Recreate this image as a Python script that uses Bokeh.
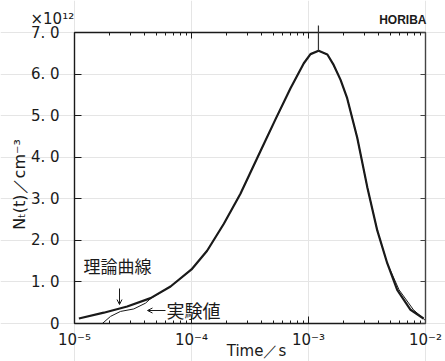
import math
from bokeh.plotting import figure
from bokeh.models import (Range1d, LogAxis, LinearAxis, FixedTicker, Label, Arrow,
                          OpenHead, CustomJSTickFormatter)
from bokeh.embed import file_html
from bokeh.resources import INLINE

# ---- data ----
theory_t = [1.09e-5, 1.78e-5, 2.82e-5, 4.47e-5, 6.62e-5, 1.0e-4, 1.36e-4, 1.89e-4,
            2.62e-4, 3.89e-4, 5.22e-4, 7.02e-4, 9.12e-4, 1.04e-3, 1.22e-3, 1.45e-3,
            1.64e-3, 1.88e-3, 2.14e-3, 2.61e-3, 3.18e-3, 3.87e-3, 4.71e-3, 5.73e-3,
            7.45e-3, 9.62e-3]
theory_n = [0.12, 0.26, 0.41, 0.61, 0.89, 1.30, 1.75, 2.40,
            3.12, 4.15, 4.91, 5.66, 6.26, 6.48, 6.56, 6.47,
            6.22, 5.86, 5.42, 4.47, 3.28, 2.24, 1.45, 0.81,
            0.33, 0.12]

exp_t = [1.73e-5, 2.03e-5, 2.47e-5, 3.21e-5, 4.05e-5, 4.47e-5, 6.62e-5, 1.0e-4, 1.36e-4,
         1.89e-4, 2.62e-4, 3.89e-4, 5.22e-4, 7.02e-4, 9.12e-4, 1.04e-3, 1.22e-3, 1.45e-3,
         1.64e-3, 1.88e-3, 2.14e-3, 2.61e-3, 3.18e-3, 3.87e-3, 4.71e-3, 5.94e-3,
         7.89e-3, 1.0e-2]
exp_n = [0.0, 0.17, 0.29, 0.35, 0.49, 0.60, 0.89, 1.30, 1.75,
         2.40, 3.12, 4.15, 4.91, 5.66, 6.26, 6.48, 6.56, 6.47,
         6.22, 5.86, 5.42, 4.47, 3.28, 2.24, 1.45, 0.81,
         0.33, 0.07]

peak_t = 1.216e-3
peak_n = 6.56

x_ticks = [1e-5, 1e-4, 1e-3, 1e-2]
x_tick_labels = {"-5": "10⁻⁵", "-4": "10⁻⁴", "-3": "10⁻³", "-2": "10⁻²"}
y_ticks = [0, 1, 2, 3, 4, 5, 6, 7]
y_tick_labels = {0: "0", 1: "1. 0", 2: "2. 0", 3: "3. 0", 4: "4. 0",
                 5: "5. 0", 6: "6. 0", 7: "7. 0"}
x_min, x_max = 1e-5, 1e-2
y_min, y_max = 0, 7

x_minor = [m * 10.0 ** e for e in (-5, -4, -3) for m in range(2, 10)]

# ---- layout: the frame fills the canvas; the axes box sits inside it ----
W, H = 445, 361
BOX_L, BOX_R, BOX_T, BOX_B = 74, 425, 32, 323
DEC = (BOX_R - BOX_L) / (math.log10(x_max) - math.log10(x_min))
UNIT = (BOX_B - BOX_T) / (y_max - y_min)


def px2x(px):
    return 10 ** (math.log10(x_min) + (px - BOX_L) / DEC)


def py2y(py):
    return y_min + (BOX_B - py) / UNIT


FONT = "DejaVu Sans"
JP = "Noto Sans CJK JP"
INK = "#1a1a1a"

p = figure(width=W, height=H, x_axis_type="log",
           x_range=Range1d(px2x(0), px2x(W)), y_range=Range1d(py2y(H), py2y(0)),
           x_axis_location=None, y_axis_location=None,
           output_backend="svg", toolbar_location=None, min_border=0)
p.outline_line_color = None
p.background_fill_color = "white"
p.border_fill_color = "white"

xfmt = CustomJSTickFormatter(args=dict(labels=x_tick_labels),
                             code="return labels[String(Math.round(Math.log10(tick)))] || '';")
blank = CustomJSTickFormatter(code="return '';")

# bottom axis
xa = LogAxis(fixed_location=y_min, bounds=(x_min, x_max),
             ticker=FixedTicker(ticks=x_ticks, minor_ticks=x_minor), formatter=xfmt,
             major_tick_in=7, major_tick_out=0, minor_tick_in=3, minor_tick_out=0,
             major_label_standoff=7, major_label_text_font=FONT,
             major_label_text_font_size="15px", major_label_text_color=INK,
             axis_line_width=1.4, axis_line_color=INK,
             major_tick_line_color=INK, minor_tick_line_color=INK)
p.add_layout(xa, "below")

# left axis
ya = LinearAxis(fixed_location=x_min, bounds=(y_min, y_max),
                ticker=FixedTicker(ticks=y_ticks), major_label_overrides=y_tick_labels,
                major_tick_in=7, major_tick_out=0, minor_tick_line_color=None,
                major_label_standoff=15, major_label_text_font=FONT,
                major_label_text_font_size="15px", major_label_text_color=INK,
                axis_line_width=1.4, axis_line_color=INK, major_tick_line_color=INK)
p.add_layout(ya, "left")

# top axis
ta = LogAxis(fixed_location=y_max, bounds=(x_min, x_max),
             ticker=FixedTicker(ticks=x_ticks, minor_ticks=x_minor), formatter=blank,
             major_tick_in=6, major_tick_out=0, minor_tick_in=3, minor_tick_out=0,
             major_label_standoff=0, major_label_text_font_size="2px",
             axis_line_width=1.4, axis_line_color=INK,
             major_tick_line_color=INK, minor_tick_line_color=INK)
p.add_layout(ta, "above")

# right axis
ra = LinearAxis(fixed_location=x_max, bounds=(y_min, y_max),
                ticker=FixedTicker(ticks=y_ticks), formatter=blank,
                major_tick_in=5, major_tick_out=0, minor_tick_line_color=None,
                major_label_standoff=0, major_label_text_font_size="2px",
                axis_line_width=1.4, axis_line_color="#444444",
                major_tick_line_color="#444444")
p.add_layout(ra, "right")

# curves
p.line(exp_t, exp_n, line_color=INK, line_width=1.0)
p.line(theory_t, theory_n, line_color=INK, line_width=2.2)

# vertical marker above the peak
p.add_layout(Arrow(end=None, x_start=peak_t, y_start=peak_n, x_end=peak_t, y_end=py2y(25),
                   line_color="#333333", line_width=1.2))

# annotations
p.add_layout(Label(x=px2x(83), y=py2y(265), text="理論曲線", text_font=JP,
                   text_font_size="17px", text_color=INK,
                   text_align="left", text_baseline="middle"))
p.add_layout(Arrow(end=OpenHead(size=5, line_width=1, line_color=INK),
                   x_start=px2x(119), y_start=py2y(288), x_end=px2x(119), y_end=py2y(304),
                   line_color=INK, line_width=1))
p.add_layout(Arrow(end=OpenHead(size=5, line_width=1, line_color=INK),
                   x_start=px2x(165), y_start=py2y(310), x_end=px2x(147), y_end=py2y(310),
                   line_color=INK, line_width=1))
p.add_layout(Label(x=px2x(166), y=py2y(309), text="実験値", text_font=JP,
                   text_font_size="18px", text_color=INK,
                   text_align="left", text_baseline="middle"))

p.add_layout(Label(x=px2x(30), y=py2y(18), text="×10¹²", text_font=FONT,
                   text_font_size="15px", text_color=INK,
                   text_align="left", text_baseline="middle"))
p.add_layout(Label(x=px2x(426), y=py2y(19), text="HORIBA", text_font="Liberation Sans",
                   text_font_style="bold", text_font_size="12px", text_color=INK,
                   text_align="right", text_baseline="middle"))
p.add_layout(Label(x=px2x(19), y=py2y(184), text="Nₜ(t)／cm⁻³", text_font=FONT,
                   angle=math.pi / 2, text_font_size="16px", text_color=INK,
                   text_align="center", text_baseline="middle"))
p.add_layout(Label(x=px2x(256), y=py2y(350), text="Time／s", text_font=FONT,
                   text_font_size="15px", text_color=INK,
                   text_align="center", text_baseline="middle"))

open("out.html", "w").write(file_html(p, INLINE))
